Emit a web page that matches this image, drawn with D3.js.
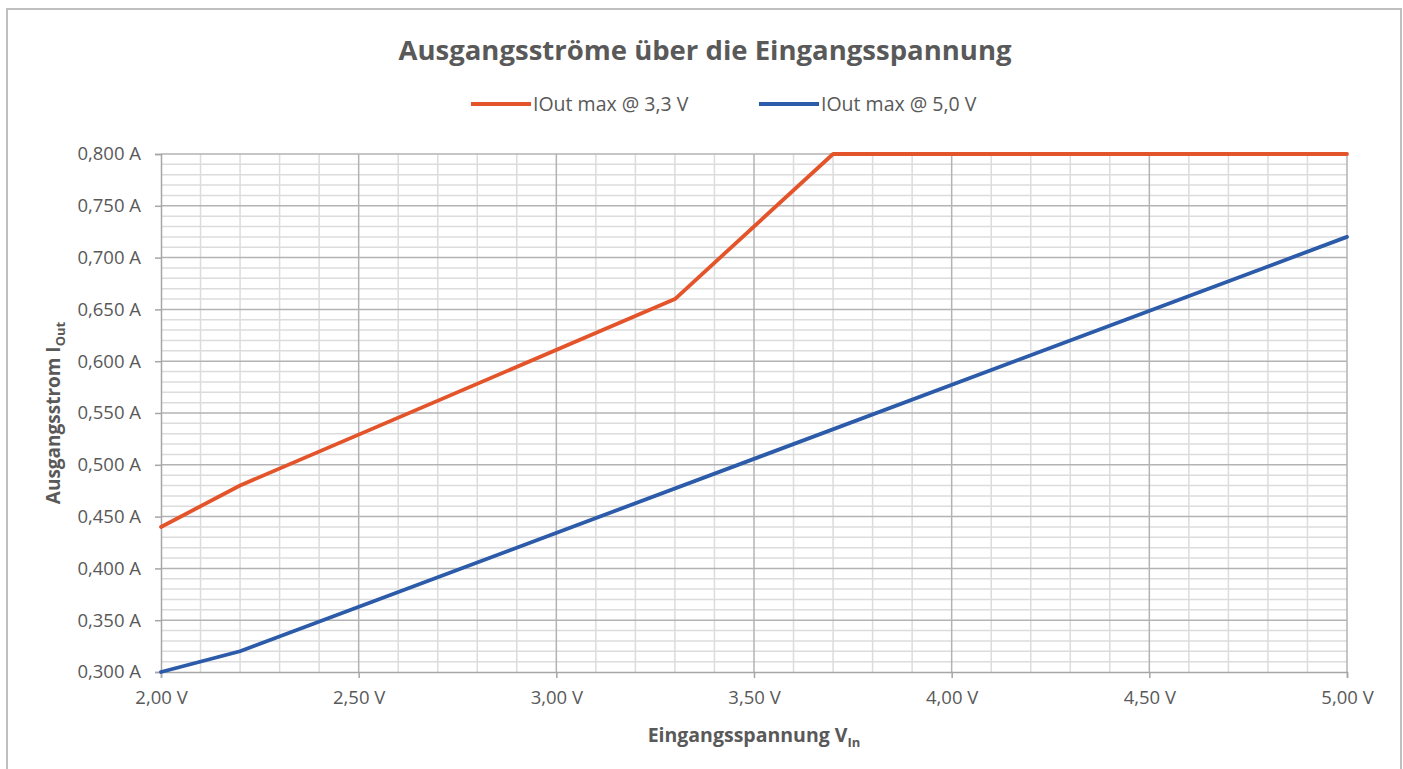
<!DOCTYPE html>
<html>
<head>
<meta charset="utf-8">
<script src="https://cdn.jsdelivr.net/npm/d3@7"></script>
<style>
  html, body { margin: 0; padding: 0; background: #ffffff; }
  svg { display: block; font-family: "Open Sans", "DejaVu Sans", sans-serif; }
</style>
</head>
<body>
<svg id="chart" width="1403" height="769"></svg>
<script>
// Input voltage (V) at the measured break points
const voltage33 = [2.0, 2.2, 3.3, 3.7, 5.0];
const current33 = [0.44, 0.48, 0.66, 0.80, 0.80];   // IOut max @ 3,3 V (A)

const voltage50 = [2.0, 2.2, 5.0];
const current50 = [0.30, 0.32, 0.72];               // IOut max @ 5,0 V (A)

const seriesNames = ["IOut max @ 3,3 V", "IOut max @ 5,0 V"];
const xTicks = [2.0, 2.5, 3.0, 3.5, 4.0, 4.5, 5.0];
const yTicks = [0.30, 0.35, 0.40, 0.45, 0.50, 0.55, 0.60, 0.65, 0.70, 0.75, 0.80];

const colors = ["#e4542a", "#2c5ba9"];

const svg = d3.select("#chart");
const plot = { left: 161, right: 1347, top: 154, bottom: 672 };

// chart frame (bottom edge runs past the viewport)
svg.append("rect")
  .attr("x", 7).attr("y", 9)
  .attr("width", 1394).attr("height", 780)
  .attr("fill", "#ffffff")
  .attr("stroke", "#bfbfbf").attr("stroke-width", 2);

const x = d3.scaleLinear().domain([2.0, 5.0]).range([plot.left, plot.right]);
const y = d3.scaleLinear().domain([0.30, 0.80]).range([plot.bottom, plot.top]);

const fmtV = d => d3.format(".2f")(d).replace(".", ",") + " V";
const fmtA = d => d3.format(".3f")(d).replace(".", ",") + " A";

// minor gridlines: 0.1 V and 0.01 A
const minorX = d3.range(0, 31).map(i => 2.0 + i * 0.1).filter((d, i) => i % 5 !== 0);
const minorY = d3.range(0, 51).map(i => 0.30 + i * 0.01).filter((d, i) => i % 5 !== 0);

const grid = svg.append("g");
grid.selectAll("line.minx").data(minorX).join("line")
  .attr("x1", d => x(d)).attr("x2", d => x(d))
  .attr("y1", plot.top).attr("y2", plot.bottom)
  .attr("stroke", "#dcdcdc").attr("stroke-width", 1.5);
grid.selectAll("line.miny").data(minorY).join("line")
  .attr("x1", plot.left).attr("x2", plot.right)
  .attr("y1", d => y(d)).attr("y2", d => y(d))
  .attr("stroke", "#dcdcdc").attr("stroke-width", 1.5);

// major gridlines
grid.selectAll("line.majx").data(xTicks.slice(1)).join("line")
  .attr("x1", d => x(d)).attr("x2", d => x(d))
  .attr("y1", plot.top).attr("y2", plot.bottom)
  .attr("stroke", "#b3b3b3").attr("stroke-width", 1.5);
grid.selectAll("line.majy").data(yTicks.slice(1)).join("line")
  .attr("x1", plot.left).attr("x2", plot.right)
  .attr("y1", d => y(d)).attr("y2", d => y(d))
  .attr("stroke", "#b3b3b3").attr("stroke-width", 1.5);

// axes
const xAxis = d3.axisBottom(x).tickValues(xTicks).tickFormat(fmtV).tickSize(6).tickPadding(13);
const yAxis = d3.axisLeft(y).tickValues(yTicks).tickFormat(fmtA).tickSize(6).tickPadding(14);

const gx = svg.append("g").attr("transform", `translate(0,${plot.bottom})`).call(xAxis);
const gy = svg.append("g").attr("transform", `translate(${plot.left},0)`).call(yAxis);
[gx, gy].forEach(g => {
  g.select(".domain").attr("stroke", "#a6a6a6").attr("stroke-width", 1.5);
  g.selectAll(".tick line").attr("stroke", "#a6a6a6").attr("stroke-width", 1.5);
  g.selectAll(".tick text").attr("fill", "#595959").style("font-size", "18.5px")
    .style("font-family", "'Open Sans', sans-serif");
});

// series lines
const line = d3.line().x(d => x(d[0])).y(d => y(d[1]));
const series = [
  d3.zip(voltage33, current33),
  d3.zip(voltage50, current50)
];
svg.append("g").selectAll("path").data(series).join("path")
  .attr("d", line)
  .attr("fill", "none")
  .attr("stroke", (d, i) => colors[i])
  .attr("stroke-width", 3.8)
  .attr("stroke-linejoin", "round")
  .attr("stroke-linecap", "round");

// title
svg.append("text")
  .attr("x", 705).attr("y", 60)
  .attr("text-anchor", "middle")
  .attr("fill", "#595959")
  .style("font-size", "27.5px").style("font-weight", "bold")
  .text("Ausgangsströme über die Eingangsspannung");

// legend
const legendX = [471, 759];
const legend = svg.append("g");
seriesNames.forEach((name, i) => {
  legend.append("line")
    .attr("x1", legendX[i]).attr("x2", legendX[i] + 60)
    .attr("y1", 104).attr("y2", 104)
    .attr("stroke", colors[i]).attr("stroke-width", 3.8);
  legend.append("text")
    .attr("x", legendX[i] + 62).attr("y", 111)
    .attr("fill", "#595959").style("font-size", "19.5px")
    .text(name);
});

// axis titles with subscripts
const xt = svg.append("text")
  .attr("x", 754).attr("y", 742)
  .attr("text-anchor", "middle")
  .attr("fill", "#595959").style("font-size", "19.5px").style("font-weight", "bold");
xt.append("tspan").text("Eingangsspannung V");
xt.append("tspan").attr("dy", 5).style("font-size", "13px").text("In");

const yt = svg.append("text")
  .attr("transform", `translate(60,${(plot.top + plot.bottom) / 2}) rotate(-90)`)
  .attr("text-anchor", "middle")
  .attr("fill", "#595959").style("font-size", "19px").style("font-weight", "bold");
yt.append("tspan").text("Ausgangsstrom I");
yt.append("tspan").attr("dy", 5).style("font-size", "13px").text("Out");
</script>
</body>
</html>
